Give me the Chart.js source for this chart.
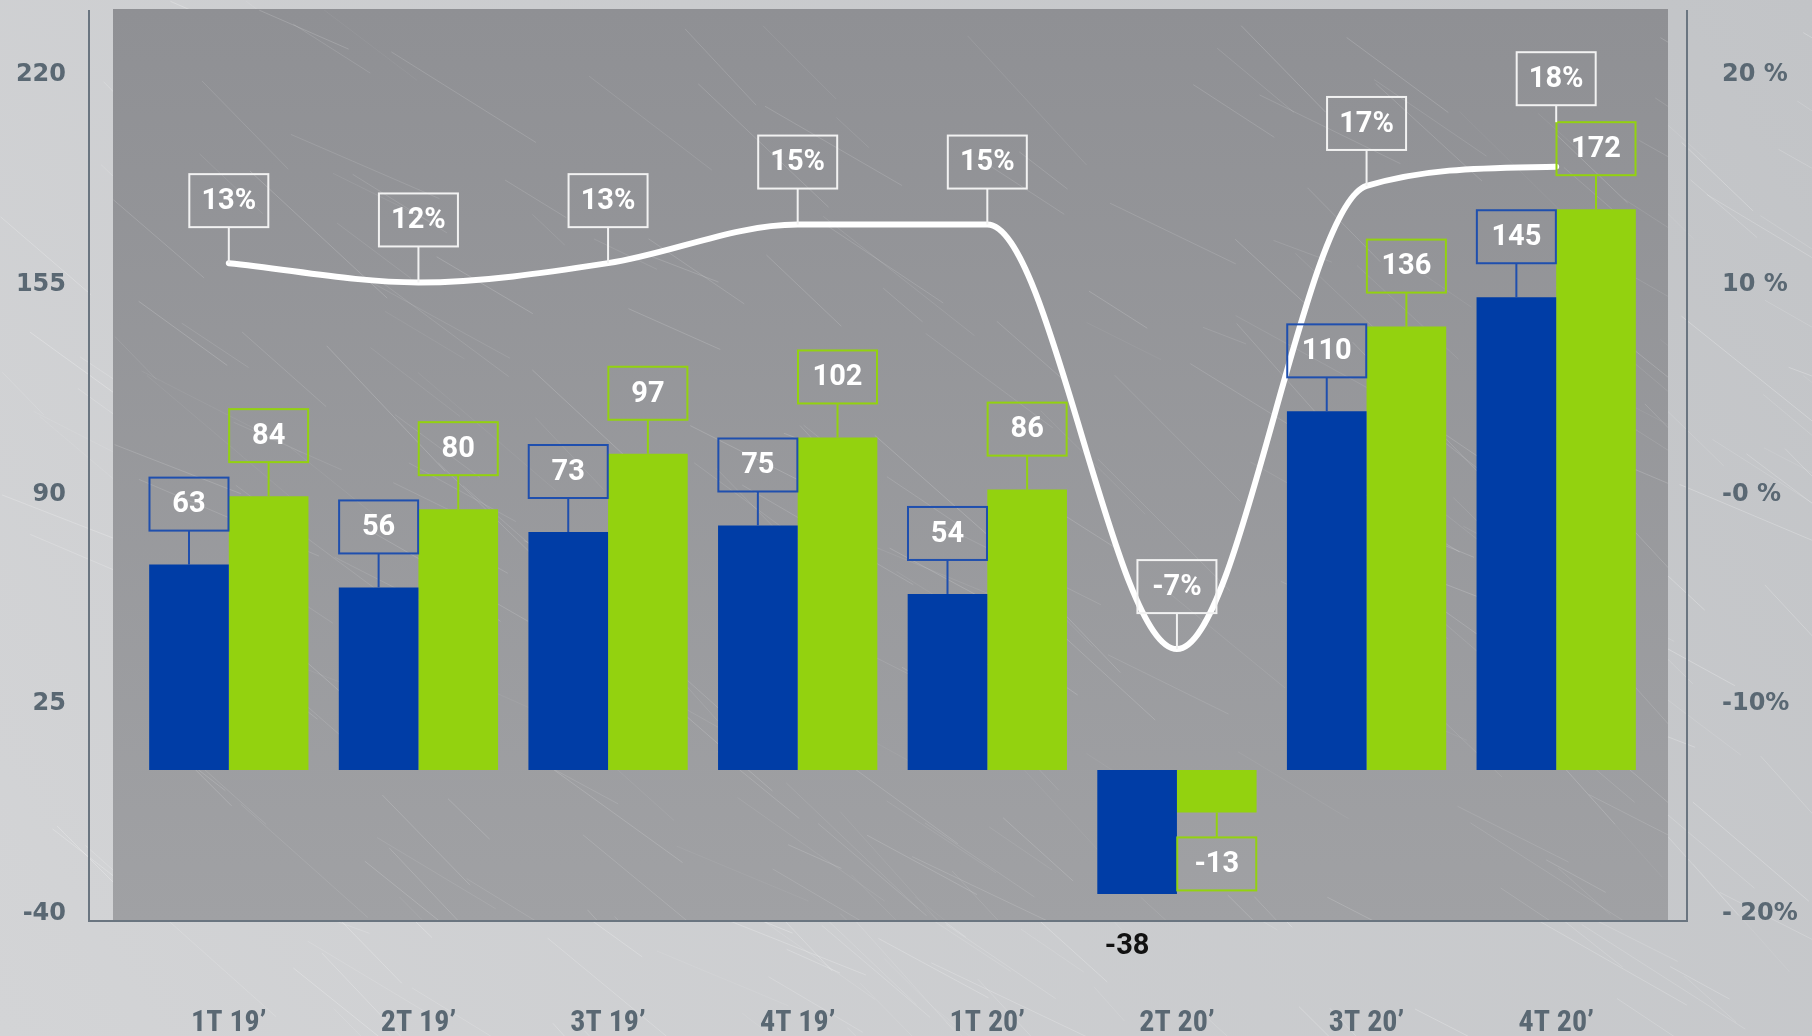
<!DOCTYPE html>
<html>
<head>
<meta charset="utf-8">
<script src="https://cdn.jsdelivr.net/npm/chart.js@4"></script>
<style>
  html, body { margin: 0; padding: 0; background: #c6c8cb; }
  canvas { display: block; }
</style>
</head>
<body>
<canvas id="chart" width="1812" height="1036"></canvas>
<script>
const QUARTERS = ['1T 19’', '2T 19’', '3T 19’', '4T 19’', '1T 20’', '2T 20’', '3T 20’', '4T 20’'];
const SERIES_BLUE = [63, 56, 73, 75, 54, -38, 110, 145];
const SERIES_GREEN = [84, 80, 97, 102, 86, -13, 136, 172];
const GROWTH_PCT = [13, 12, 13, 15, 15, -7, 17, 18];
const LEFT_TICKS = [-40, 25, 90, 155, 220];
const RIGHT_TICKS = [-20, -10, 0, 10, 20];
const RIGHT_TICK_LABELS = ['- 20%', '-10%', '-0 %', '10 %', '20 %'];

const BLUE = '#003da6';
const GREEN = '#93d20f';
const AXIS_TEXT = '#5a6873';

// pequeño hash para el rayado del fondo (siempre igual en cada render)
const hash = (n) => {
  const s = Math.sin(n * 12.9898) * 43758.5453;
  return s - Math.floor(s);
};

const drawScratches = (ctx, x, y, w, h, count, alpha) => {
  ctx.save();
  ctx.beginPath();
  ctx.rect(x, y, w, h);
  ctx.clip();
  ctx.lineWidth = 1;
  for (let k = 0; k < count; k++) {
    const sx = x + hash(k + 1) * w;
    const sy = y + hash(k + 101) * h;
    const len = 40 + hash(k + 201) * 160;
    const ang = 0.35 + hash(k + 301) * 0.5;
    ctx.strokeStyle = `rgba(255,255,255,${alpha * (0.4 + hash(k + 401))})`;
    ctx.beginPath();
    ctx.moveTo(sx, sy);
    ctx.lineTo(sx + Math.cos(ang) * len, sy + Math.sin(ang) * len);
    ctx.stroke();
  }
  ctx.restore();
};

// fondo metálico, panel interior y marco de ejes
const framePlugin = {
  id: 'frame',
  beforeDraw(chart) {
    const { ctx, width, height, chartArea: a } = chart;
    ctx.save();
    let g = ctx.createLinearGradient(width, 0, 0, height);
    g.addColorStop(0, '#c2c4c7');
    g.addColorStop(1, '#d3d4d6');
    ctx.fillStyle = g;
    ctx.fillRect(0, 0, width, height);
    drawScratches(ctx, 0, 0, width, height, 260, 0.18);

    const left = a.left - 21;
    const right = a.right + 17;
    g = ctx.createLinearGradient(0, a.top, 0, a.bottom);
    g.addColorStop(0, '#8f9094');
    g.addColorStop(1, '#a0a1a4');
    ctx.fillStyle = g;
    ctx.fillRect(left, a.top, right - left, a.bottom - a.top);
    drawScratches(ctx, left, a.top, right - left, a.bottom - a.top, 220, 0.12);

    ctx.strokeStyle = '#6a7580';
    ctx.lineWidth = 2;
    ctx.beginPath();
    ctx.moveTo(a.left - 45, a.top + 1);
    ctx.lineTo(a.left - 45, a.bottom);
    ctx.lineTo(a.right + 36, a.bottom);
    ctx.lineTo(a.right + 36, a.top + 1);
    ctx.stroke();
    ctx.restore();
  }
};

const BOX_W = 79;
const BOX_H = 53;

const drawBox = (ctx, cx, top, color, text) => {
  ctx.strokeStyle = color;
  ctx.lineWidth = 2;
  ctx.strokeRect(cx - BOX_W / 2, top, BOX_W, BOX_H);
  ctx.fillStyle = '#ffffff';
  ctx.fillText(text, cx, top + BOX_H / 2 + 1);
};

const drawStem = (ctx, x, y1, y2, color) => {
  ctx.strokeStyle = color;
  ctx.lineWidth = 2;
  ctx.beginPath();
  ctx.moveTo(x, y1);
  ctx.lineTo(x, y2);
  ctx.stroke();
};

// etiquetas en recuadro con su conector hasta la barra o la línea
const boxLabels = {
  id: 'boxLabels',
  afterDatasetsDraw(chart) {
    const ctx = chart.ctx;
    const area = chart.chartArea;
    const topByIndex = {};
    ctx.save();
    ctx.font = 'bold 29px Roboto';
    ctx.textAlign = 'center';
    ctx.textBaseline = 'middle';

    chart.data.datasets.forEach((ds, i) => {
      if (ds.type === 'line') return;
      const meta = chart.getDatasetMeta(i);
      meta.data.forEach((el, j) => {
        const v = ds.data[j];
        if (v >= 0) {
          const top = el.y - 34 - BOX_H;
          drawStem(ctx, el.x, top + BOX_H, el.y, ds.borderColor);
          drawBox(ctx, el.x, top, ds.borderColor, String(v));
          topByIndex[j] = Math.min(topByIndex[j] ?? Infinity, top);
        } else {
          const top = el.y + 25;
          if (top + BOX_H > area.bottom) {
            // no cabe el recuadro: el valor va debajo del eje
            ctx.fillStyle = '#111111';
            ctx.fillText(String(v), el.x - 10, area.bottom + 26);
          } else {
            drawStem(ctx, el.x, el.y, top, ds.borderColor);
            drawBox(ctx, el.x, top, ds.borderColor, String(v));
          }
        }
      });
    });

    chart.data.datasets.forEach((ds, i) => {
      if (ds.type !== 'line') return;
      const meta = chart.getDatasetMeta(i);
      meta.data.forEach((el, j) => {
        let end = el.y;
        let bottom = el.y - 36;
        const barTop = topByIndex[j];
        if (barTop !== undefined && bottom > barTop) {
          end = barTop;
          bottom = barTop - 17;
        }
        drawStem(ctx, el.x, bottom, end, '#f2f2f2');
        drawBox(ctx, el.x, bottom - BOX_H, '#f2f2f2', `${ds.data[j]}%`);
      });
    });
    ctx.restore();
  }
};

const tickFont = { family: 'DejaVu Sans', size: 24, weight: 'bold' };

// los ejes Y tienen mucho padding de etiqueta; sin esto Chart.js lo suma arriba y abajo
const fixVertical = (width) => (scale) => {
  scale.width = width;
  scale.paddingTop = 0;
  scale.paddingBottom = 0;
};

new Chart(document.getElementById('chart'), {
  type: 'bar',
  data: {
    labels: QUARTERS,
    datasets: [
      {
        type: 'line',
        label: 'Crecimiento',
        data: GROWTH_PCT,
        yAxisID: 'yLine',
        borderColor: '#ffffff',
        borderWidth: 6,
        borderCapStyle: 'round',
        pointRadius: 0,
        cubicInterpolationMode: 'monotone',
        fill: false,
        order: 0
      },
      {
        label: 'Serie 1',
        data: SERIES_BLUE,
        yAxisID: 'yBar',
        backgroundColor: BLUE,
        borderColor: '#1f4fae',
        borderWidth: 0,
        order: 1
      },
      {
        label: 'Serie 2',
        data: SERIES_GREEN,
        yAxisID: 'yBar',
        backgroundColor: GREEN,
        borderColor: GREEN,
        borderWidth: 0,
        order: 1
      }
    ]
  },
  options: {
    responsive: false,
    animation: false,
    layout: { padding: { top: 9, left: 0, right: 0, bottom: 0 } },
    datasets: { bar: { categoryPercentage: 0.84, barPercentage: 1.0 } },
    plugins: {
      legend: { display: false },
      tooltip: { enabled: false }
    },
    scales: {
      x: {
        grid: { display: false, drawTicks: false },
        border: { display: false },
        ticks: {
          color: AXIS_TEXT,
          font: { family: "'Liberation Sans Narrow', 'Roboto Condensed', Roboto", size: 30, weight: 'bold' },
          padding: 84,
          maxRotation: 0,
          autoSkip: false
        },
        afterFit: (scale) => {
          scale.height = 115;
          scale.paddingLeft = 0;
          scale.paddingRight = 0;
        }
      },
      y: {
        position: 'left',
        min: -42.17,
        max: 240.45,
        afterBuildTicks: (scale) => { scale.ticks = LEFT_TICKS.map(v => ({ value: v })); },
        grid: { display: false, drawTicks: false },
        border: { display: false },
        ticks: { color: AXIS_TEXT, font: tickFont, padding: 68 },
        afterFit: fixVertical(134)
      },
      yPct: {
        position: 'right',
        min: -20.333,
        max: 23.147,
        afterBuildTicks: (scale) => { scale.ticks = RIGHT_TICKS.map(v => ({ value: v })); },
        grid: { display: false, drawTicks: false },
        border: { display: false },
        ticks: {
          color: AXIS_TEXT,
          font: tickFont,
          padding: 71,
          callback: (v) => RIGHT_TICK_LABELS[RIGHT_TICKS.indexOf(v)]
        },
        afterFit: fixVertical(161)
      },
      yBar: { display: false, min: -46.3, max: 233.4 },
      yLine: { display: false, min: -21.09, max: 26.17 }
    }
  },
  plugins: [framePlugin, boxLabels]
});
</script>
</body>
</html>
